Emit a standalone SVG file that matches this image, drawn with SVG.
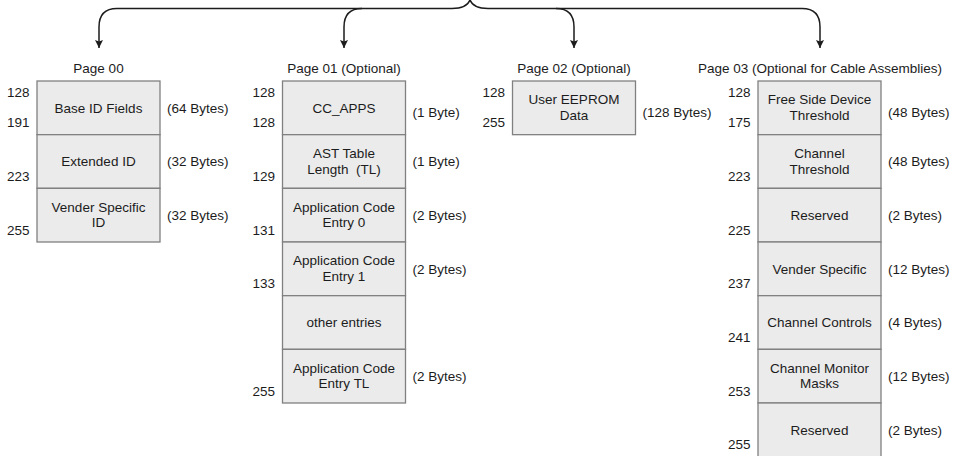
<svg xmlns="http://www.w3.org/2000/svg" width="953" height="456" viewBox="0 0 953 456">
<style>
.bg{fill:#ffffff}
.box{fill:#ebebeb;stroke:#808080;stroke-width:1.3}
.t{font-family:"Liberation Sans",Arial,sans-serif;font-size:13.5px;fill:#1c1c1c;white-space:pre}
.c{text-anchor:middle}
.e{text-anchor:end}
.conn{fill:none;stroke:#1c1c1c;stroke-width:1.5}
</style>
<defs>
<marker id="ah" viewBox="0 0 10 10" refX="10" refY="5" markerWidth="9" markerHeight="8" markerUnits="userSpaceOnUse" orient="auto">
<path d="M0,0 L10,5 L0,10 L2,5 z" fill="#1c1c1c"/>
</marker>
</defs>
<rect class="bg" x="0" y="0" width="953" height="456"/>

<g id="connectors">
<path class="conn" d="M 452 8.5 C 462 8.5 468 5 470 0 C 472 5 478 8.5 488 8.5"/>
<path class="conn" d="M 452 8.5 H 117 Q 99 8.5 99 27 V 48" marker-end="url(#ah)"/>
<path class="conn" d="M 362 8.5 Q 344 8.5 344 27 V 48" marker-end="url(#ah)"/>
<path class="conn" d="M 488 8.5 H 802 Q 820 8.5 820 27 V 48" marker-end="url(#ah)"/>
<path class="conn" d="M 556 8.5 Q 574 8.5 574 27 V 48" marker-end="url(#ah)"/>
</g>

<g id="page00">
<text class="t c" x="98.5" y="73">Page 00</text>
<g id="p00-base">
<rect class="box" x="37" y="81" width="123" height="53.67"/>
<text class="t c" x="98.5" y="112.5">Base ID Fields</text>
<text class="t e" x="29.5" y="96.7">128</text>
<text class="t e" x="29.5" y="127.4">191</text>
<text class="t" x="167" y="112.5">(64 Bytes)</text>
</g>
<g id="p00-ext">
<rect class="box" x="37" y="134.67" width="123" height="53.67"/>
<text class="t c" x="98.5" y="166.2">Extended ID</text>
<text class="t e" x="29.5" y="181">223</text>
<text class="t" x="167" y="166.2">(32 Bytes)</text>
</g>
<g id="p00-vendor">
<rect class="box" x="37" y="188.33" width="123" height="53.67"/>
<text class="t c" x="98.5" y="211.8">Vender Specific</text>
<text class="t c" x="98.5" y="227.3">ID</text>
<text class="t e" x="29.5" y="234.7">255</text>
<text class="t" x="167" y="219.9">(32 Bytes)</text>
</g>
</g>

<g id="page01">
<text class="t c" x="344" y="73">Page 01 (Optional)</text>
<g id="p01-ccapps">
<rect class="box" x="282.5" y="81" width="123" height="53.67"/>
<text class="t c" x="344" y="112.5">CC_APPS</text>
<text class="t e" x="275" y="96.7">128</text>
<text class="t e" x="275" y="127.4">128</text>
<text class="t" x="412.5" y="117">(1 Byte)</text>
</g>
<g id="p01-ast">
<rect class="box" x="282.5" y="134.67" width="123" height="53.67"/>
<text class="t c" x="344" y="158.1">AST Table</text>
<text class="t c" x="344" y="173.6">Length  (TL)</text>
<text class="t e" x="275" y="181">129</text>
<text class="t" x="412.5" y="166.2">(1 Byte)</text>
</g>
<g id="p01-entry0">
<rect class="box" x="282.5" y="188.33" width="123" height="53.67"/>
<text class="t c" x="344" y="211.8">Application Code</text>
<text class="t c" x="344" y="227.3">Entry 0</text>
<text class="t e" x="275" y="234.7">131</text>
<text class="t" x="412.5" y="219.9">(2 Bytes)</text>
</g>
<g id="p01-entry1">
<rect class="box" x="282.5" y="242" width="123" height="53.67"/>
<text class="t c" x="344" y="265.4">Application Code</text>
<text class="t c" x="344" y="280.9">Entry 1</text>
<text class="t e" x="275" y="288.4">133</text>
<text class="t" x="412.5" y="273.5">(2 Bytes)</text>
</g>
<g id="p01-other">
<rect class="box" x="282.5" y="295.67" width="123" height="53.67"/>
<text class="t c" x="344" y="327.2">other entries</text>
</g>
<g id="p01-entrytl">
<rect class="box" x="282.5" y="349.33" width="123" height="53.67"/>
<text class="t c" x="344" y="372.8">Application Code</text>
<text class="t c" x="344" y="388.3">Entry TL</text>
<text class="t e" x="275" y="395.7">255</text>
<text class="t" x="412.5" y="380.9">(2 Bytes)</text>
</g>
</g>

<g id="page02">
<text class="t c" x="574" y="73">Page 02 (Optional)</text>
<g id="p02-user">
<rect class="box" x="512.5" y="81" width="123" height="53.67"/>
<text class="t c" x="574" y="104.4">User EEPROM</text>
<text class="t c" x="574" y="119.9">Data</text>
<text class="t e" x="505" y="96.7">128</text>
<text class="t e" x="505" y="127.4">255</text>
<text class="t" x="642.5" y="117">(128 Bytes)</text>
</g>
</g>

<g id="page03">
<text class="t c" x="820" y="73">Page 03 (Optional for Cable Assemblies)</text>
<g id="p03-free">
<rect class="box" x="758" y="81" width="123" height="53.67"/>
<text class="t c" x="819.5" y="104.4">Free Side Device</text>
<text class="t c" x="819.5" y="119.9">Threshold</text>
<text class="t e" x="750.5" y="96.7">128</text>
<text class="t e" x="750.5" y="127.4">175</text>
<text class="t" x="888" y="117">(48 Bytes)</text>
</g>
<g id="p03-chthr">
<rect class="box" x="758" y="134.67" width="123" height="53.67"/>
<text class="t c" x="819.5" y="158.1">Channel</text>
<text class="t c" x="819.5" y="173.6">Threshold</text>
<text class="t e" x="750.5" y="181">223</text>
<text class="t" x="888" y="166.2">(48 Bytes)</text>
</g>
<g id="p03-res1">
<rect class="box" x="758" y="188.33" width="123" height="53.67"/>
<text class="t c" x="819.5" y="219.9">Reserved</text>
<text class="t e" x="750.5" y="234.7">225</text>
<text class="t" x="888" y="219.9">(2 Bytes)</text>
</g>
<g id="p03-vendor">
<rect class="box" x="758" y="242" width="123" height="53.67"/>
<text class="t c" x="819.5" y="273.5">Vender Specific</text>
<text class="t e" x="750.5" y="288.4">237</text>
<text class="t" x="888" y="273.5">(12 Bytes)</text>
</g>
<g id="p03-chctl">
<rect class="box" x="758" y="295.67" width="123" height="53.67"/>
<text class="t c" x="819.5" y="327.2">Channel Controls</text>
<text class="t e" x="750.5" y="342">241</text>
<text class="t" x="888" y="327.2">(4 Bytes)</text>
</g>
<g id="p03-mask">
<rect class="box" x="758" y="349.33" width="123" height="53.67"/>
<text class="t c" x="819.5" y="372.8">Channel Monitor</text>
<text class="t c" x="819.5" y="388.3">Masks</text>
<text class="t e" x="750.5" y="395.7">253</text>
<text class="t" x="888" y="380.9">(12 Bytes)</text>
</g>
<g id="p03-res2">
<rect class="box" x="758" y="403" width="123" height="53.67"/>
<text class="t c" x="819.5" y="434.5">Reserved</text>
<text class="t e" x="750.5" y="449.4">255</text>
<text class="t" x="888" y="434.5">(2 Bytes)</text>
</g>
</g>
</svg>
